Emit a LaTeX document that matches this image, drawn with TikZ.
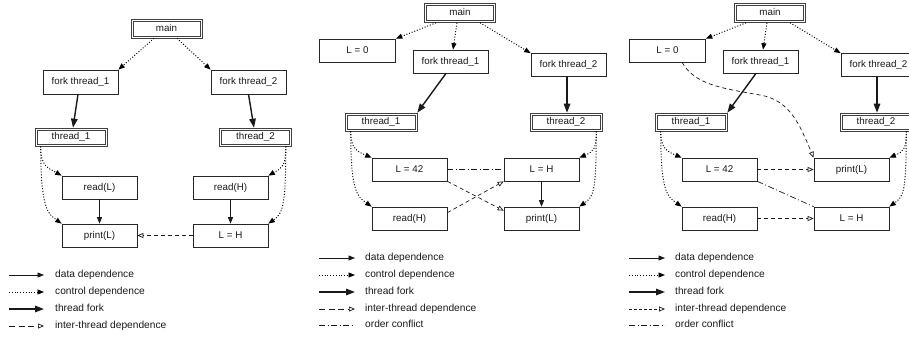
\documentclass[tikz,border=0pt]{standalone}
\usepackage{fontspec}
\setmainfont{Liberation Sans}
\usetikzlibrary{arrows.meta}
\tikzset{
  box/.style={draw=black!85, line width=0.7pt, minimum width=75pt, minimum height=23pt,
    inner sep=0pt, text height=7pt, text depth=2pt, text=black!90,
    font=\fontsize{9.8}{11}\selectfont},
  dbox/.style={box, draw=black!75, line width=0.6pt,
    minimum width=72pt, minimum height=18pt,
    path picture={\draw[black!75, line width=0.6pt]
      ([shift={(1.9pt,-1.9pt)}]path picture bounding box.north west) rectangle
      ([shift={(-1.9pt,1.9pt)}]path picture bounding box.south east);}},
  mbox/.style={dbox, minimum width=71pt, minimum height=19pt},
  dataarr/.style={-{Triangle[length=6.5pt,width=5pt]}, line width=0.7pt, draw=black!90},
  ctrlarr/.style={-{Triangle[length=6.5pt,width=5pt]}, line width=0.95pt, draw=black,
    dash pattern=on 1pt off 1.8pt},
  forkarr/.style={-{Triangle[length=9pt,width=6.5pt]}, line width=1.4pt, draw=black!90},
  interarr/.style={-{Triangle[open,length=6pt,width=5pt]}, line width=0.7pt, draw=black!90,
    dash pattern=on 4pt off 3pt},
  conflictln/.style={line width=0.7pt, draw=black!90,
    dash pattern=on 6pt off 2.5pt on 1pt off 2.5pt},
  legtext/.style={anchor=west, inner sep=0pt, text height=7.5pt, text depth=2pt,
    text=black!90, font=\fontsize{10.2}{12}\selectfont}
}
\begin{document}
\begin{tikzpicture}[x=1pt,y=-1pt]
\useasboundingbox (0,0) rectangle (909,338);
\clip (0,0) rectangle (909,338);

% ---------------- Panel 1 ----------------
\node[mbox] (m1) at (166.5,28.5) {main};
\node[box, minimum height=24pt] (f11) at (80.5,82) {fork thread\_1};
\node[box, minimum height=24pt] (f12) at (248.5,82) {fork thread\_2};
\node[dbox] (t11) at (71,137) {thread\_1};
\node[dbox] (t12) at (255.5,137) {thread\_2};
\node[box] (rL1) at (99.5,187.5) {read(L)};
\node[box] (rH1) at (230.5,187.5) {read(H)};
\node[box] (pL1) at (99.5,235.5) {print(L)};
\node[box] (LH1) at (230.5,235.5) {L = H};

\draw[ctrlarr] ([xshift=-12.5pt]m1.south) -- (f11.north east);
\draw[ctrlarr] ([xshift=10.5pt]m1.south) -- (f12.north west);
\draw[forkarr] ([xshift=-2.5pt]f11.south) -- ([xshift=2pt]t11.north);
\draw[forkarr] (f12.south) -- ([xshift=-1.5pt]t12.north);
\draw[ctrlarr] ([xshift=6pt]t11.south west) .. controls +(0,20) and +(-14,-8) .. (rL1.north west);
\draw[ctrlarr] ([xshift=6pt]t11.south west) .. controls +(0,62) and +(-14,-10) .. (pL1.north west);
\draw[ctrlarr] ([xshift=-6pt]t12.south east) .. controls +(0,20) and +(14,-8) .. (rH1.north east);
\draw[ctrlarr] ([xshift=-6pt]t12.south east) .. controls +(0,62) and +(14,-10) .. (LH1.north east);
\draw[dataarr] (rL1) -- (pL1);
\draw[dataarr] (rH1) -- (LH1);
\draw[interarr] (LH1) -- (pL1);

% ---------------- Panel 2 ----------------
\node[mbox] (m2) at (460,13) {main};
\node[box, minimum width=76pt] (L02) at (357.5,50.5) {L = 0};
\node[box] (f21) at (450.5,61.5) {fork thread\_1};
\node[box] (f22) at (568.5,65) {fork thread\_2};
\node[dbox] (t21) at (381,122) {thread\_1};
\node[dbox] (t22) at (566,122) {thread\_2};
\node[box] (L422) at (409.5,169.5) {L = 42};
\node[box] (LH2) at (541.5,169.5) {L = H};
\node[box] (rH2) at (409.5,218.5) {read(H)};
\node[box] (pL2) at (541.5,218.5) {print(L)};

\draw[ctrlarr] ([xshift=-24pt]m2.south) -- (L02.north east);
\draw[ctrlarr] ([xshift=-3pt]m2.south) -- ([xshift=2.5pt]f21.north);
\draw[ctrlarr] ([xshift=20pt]m2.south) -- (f22.north west);
\draw[forkarr] ([xshift=-4.5pt]f21.south) -- (t21.north east);
\draw[forkarr] ([xshift=-1.5pt]f22.south) -- ([xshift=1pt]t22.north);
\draw[ctrlarr] ([xshift=6pt]t21.south west) .. controls +(0,18) and +(-14,-6) .. (L422.north west);
\draw[ctrlarr] ([xshift=6pt]t21.south west) .. controls +(0,62) and +(-14,-10) .. (rH2.north west);
\draw[ctrlarr] ([xshift=-6pt]t22.south east) .. controls +(0,18) and +(14,-6) .. (LH2.north east);
\draw[ctrlarr] ([xshift=-6pt]t22.south east) .. controls +(0,62) and +(14,-10) .. (pL2.north east);
\draw[conflictln] (L422) -- (LH2);
\draw[interarr] (L422.south east) -- ([yshift=-4pt]pL2.north west);
\draw[interarr] ([yshift=-6pt]rH2.north east) -- (LH2.south west);
\draw[dataarr] (LH2) -- (pL2);

% ---------------- Panel 3 ----------------
\node[mbox] (m3) at (770,13) {main};
\node[box, minimum width=76pt] (L03) at (667.5,50.5) {L = 0};
\node[box] (f31) at (760.5,61.5) {fork thread\_1};
\node[box] (f32) at (878.5,65) {fork thread\_2};
\node[dbox] (t31) at (691,122) {thread\_1};
\node[dbox] (t32) at (876,122) {thread\_2};
\node[box] (L423) at (719.5,169.5) {L = 42};
\node[box] (pL3) at (851.5,169.5) {print(L)};
\node[box] (rH3) at (719.5,218.5) {read(H)};
\node[box] (LH3) at (851.5,218.5) {L = H};
\coordinate (bend3) at (760,95);

\draw[ctrlarr] ([xshift=-24pt]m3.south) -- (L03.north east);
\draw[ctrlarr] ([xshift=-3pt]m3.south) -- ([xshift=2.5pt]f31.north);
\draw[ctrlarr] ([xshift=20pt]m3.south) -- (f32.north west);
\draw[forkarr] ([xshift=-4.5pt]f31.south) -- (t31.north east);
\draw[forkarr] ([xshift=-1.5pt]f32.south) -- ([xshift=1pt]t32.north);
\draw[ctrlarr] ([xshift=6pt]t31.south west) .. controls +(0,18) and +(-14,-6) .. (L423.north west);
\draw[ctrlarr] ([xshift=6pt]t31.south west) .. controls +(0,62) and +(-14,-10) .. (rH3.north west);
\draw[ctrlarr] ([xshift=-6pt]t32.south east) .. controls +(0,18) and +(14,-6) .. (pL3.north east);
\draw[ctrlarr] ([xshift=-6pt]t32.south east) .. controls +(0,62) and +(14,-10) .. (LH3.north east);
\draw[interarr] ([xshift=14.5pt]L03.south) .. controls +(13,22) and +(-40,-7) .. (bend3)
   .. controls +(30,5) and +(-14,-33) .. (pL3.north west);
\draw[interarr] (L423) -- (pL3);
\draw[conflictln] (L423.south east) -- (LH3.north west);
\draw[interarr] (rH3) -- (LH3);

% ---------------- Legends ----------------
\node[legtext] (a1) at (55,275) {data dependence};
\node[legtext] (a2) at (55,292) {control dependence};
\node[legtext] (a3) at (55,309) {thread fork};
\node[legtext] (a4) at (55,326) {inter-thread dependence};
\draw[dataarr] ([xshift=-46pt]a1.west) -- ([xshift=-11pt]a1.west);
\draw[ctrlarr] ([xshift=-46pt]a2.west) -- ([xshift=-11pt]a2.west);
\draw[forkarr] ([xshift=-46pt]a3.west) -- ([xshift=-11pt]a3.west);
\draw[interarr, dash pattern=on 6pt off 3.5pt] ([xshift=-46pt]a4.west) -- ([xshift=-11pt]a4.west);

\node[legtext] (b1) at (365,258) {data dependence};
\node[legtext] (b2) at (365,275) {control dependence};
\node[legtext] (b3) at (365,292) {thread fork};
\node[legtext] (b4) at (365,309) {inter-thread dependence};
\node[legtext] (b5) at (365,325) {order conflict};
\draw[dataarr] ([xshift=-46pt]b1.west) -- ([xshift=-10pt]b1.west);
\draw[ctrlarr] ([xshift=-46pt]b2.west) -- ([xshift=-10pt]b2.west);
\draw[forkarr] ([xshift=-46pt]b3.west) -- ([xshift=-10pt]b3.west);
\draw[interarr, dash pattern=on 6pt off 3.5pt] ([xshift=-46pt]b4.west) -- ([xshift=-10pt]b4.west);
\draw[conflictln] ([xshift=-46pt]b5.west) -- ([xshift=-10pt]b5.west);

\node[legtext] (c1) at (675,258) {data dependence};
\node[legtext] (c2) at (675,275) {control dependence};
\node[legtext] (c3) at (675,292) {thread fork};
\node[legtext] (c4) at (675,309) {inter-thread dependence};
\node[legtext] (c5) at (675,325) {order conflict};
\draw[dataarr] ([xshift=-46pt]c1.west) -- ([xshift=-10pt]c1.west);
\draw[ctrlarr] ([xshift=-46pt]c2.west) -- ([xshift=-10pt]c2.west);
\draw[forkarr] ([xshift=-46pt]c3.west) -- ([xshift=-10pt]c3.west);
\draw[interarr, dash pattern=on 3pt off 2pt] ([xshift=-46pt]c4.west) -- ([xshift=-10pt]c4.west);
\draw[conflictln] ([xshift=-46pt]c5.west) -- ([xshift=-10pt]c5.west);
\end{tikzpicture}
\end{document}
